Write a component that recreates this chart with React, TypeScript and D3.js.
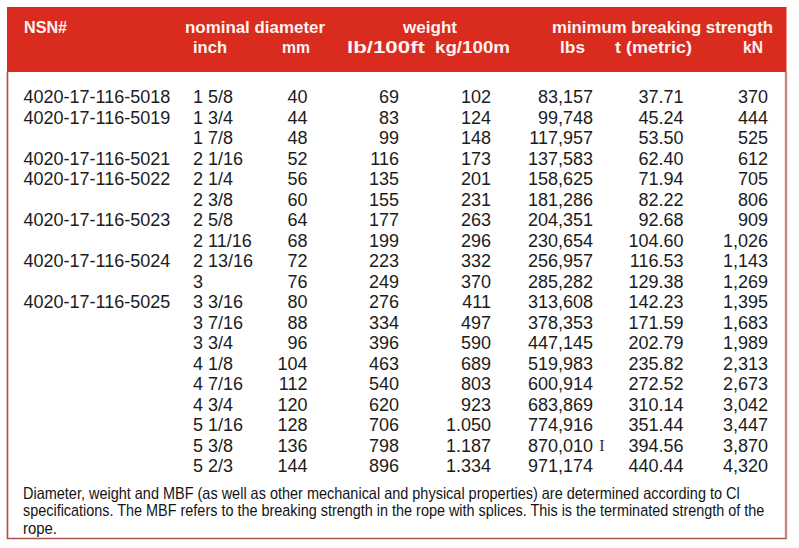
import React, { useLayoutEffect, useRef, useState } from "react";
import * as d3 from "d3";

const nsn = ["4020-17-116-5018", "4020-17-116-5019", "", "4020-17-116-5021", "4020-17-116-5022", "", "4020-17-116-5023", "", "4020-17-116-5024", "", "4020-17-116-5025", "", "", "", "", "", "", "", ""];
const inch = ["1 5/8", "1 3/4", "1 7/8", "2 1/16", "2 1/4", "2 3/8", "2 5/8", "2 11/16", "2 13/16", "3", "3 3/16", "3 7/16", "3 3/4", "4 1/8", "4 7/16", "4 3/4", "5 1/16", "5 3/8", "5 2/3"];
const mm = [40, 44, 48, 52, 56, 60, 64, 68, 72, 76, 80, 88, 96, 104, 112, 120, 128, 136, 144];
const lbPer100ft = [69, 83, 99, 116, 135, 155, 177, 199, 223, 249, 276, 334, 396, 463, 540, 620, 706, 798, 896];
const kgPer100m = [102, 124, 148, 173, 201, 231, 263, 296, 332, 370, 411, 497, 590, 689, 803, 923, 1050, 1187, 1334];
const mbsLbs = [83157, 99748, 117957, 137583, 158625, 181286, 204351, 230654, 256957, 285282, 313608, 378353, 447145, 519983, 600914, 683869, 774916, 870010, 971174];
const mbsTonnes = [37.71, 45.24, 53.5, 62.4, 71.94, 82.22, 92.68, 104.6, 116.53, 129.38, 142.23, 171.59, 202.79, 235.82, 272.52, 310.14, 351.44, 394.56, 440.44];
const mbsKN = [370, 444, 525, 612, 705, 806, 909, 1026, 1143, 1269, 1395, 1683, 1989, 2313, 2673, 3042, 3447, 3870, 4320];

const footnote = [
  "Diameter, weight and MBF (as well as other mechanical and physical properties) are determined according to Cl",
  "specifications. The MBF refers to the breaking strength in the rope with splices. This is the terminated strength of the",
  "rope.",
];
const footnoteWidths = [717, 742, 34];

const W = 799;
const H = 548;

const fmtComma = d3.format(",");
const euro = d3.formatLocale({ decimal: ",", thousands: ".", grouping: [3], currency: ["", ""] });
const fmtKg = euro.format(",");
const fmt2 = d3.format(".2f");

const rowY = d3.scalePoint<number>().domain(d3.range(inch.length)).range([103, 472]);
const footY = d3.scaleLinear().domain([0, 2]).range([499, 533.5]);

const dataFont = "'Liberation Sans', Arial, sans-serif";
const headFont = "'Liberation Sans', Arial, sans-serif";

type Col = { values: string[]; x: number; anchor: "start" | "end" };
const cols: Col[] = [
  { values: nsn, x: 23.5, anchor: "start" },
  { values: inch, x: 193, anchor: "start" },
  { values: mm.map(String), x: 307.5, anchor: "end" },
  { values: lbPer100ft.map(String), x: 399, anchor: "end" },
  { values: kgPer100m.map((v) => fmtKg(v)), x: 491, anchor: "end" },
  { values: mbsLbs.map((v) => fmtComma(v)), x: 593, anchor: "end" },
  { values: mbsTonnes.map((v) => fmt2(v)), x: 683.5, anchor: "end" },
  { values: mbsKN.map((v) => fmtComma(v)), x: 768, anchor: "end" },
];

type Head = { text: string; x: number; y: number; len?: number };
const heads: Head[] = [
  { text: "NSN#", x: 24, y: 32.5, len: 43 },
  { text: "nominal diameter", x: 185, y: 32.5, len: 140 },
  { text: "weight", x: 403, y: 32.5, len: 54 },
  { text: "minimum breaking strength", x: 552, y: 32.5, len: 221 },
  { text: "inch", x: 193, y: 53.3, len: 34 },
  { text: "mm", x: 282, y: 53.3, len: 28 },
  { text: "lb/100ft", x: 347, y: 53.3, len: 78 },
  { text: "kg/100m", x: 435, y: 53.3, len: 75 },
  { text: "lbs", x: 560, y: 53.3, len: 25 },
  { text: "t (metric)", x: 615, y: 53.3, len: 77 },
  { text: "kN", x: 743, y: 53.3, len: 20 },
];

export default function App() {
  const left = 7.5;
  const right = 786;
  const top = 7;
  const headBottom = 72;
  const bottom = 538.5;
  const footRefs = useRef<(SVGTextElement | null)[]>([]);
  const [scales, setScales] = useState<number[]>(footnote.map(() => 1));

  useLayoutEffect(() => {
    const s = footnote.map((_, i) => {
      const el = footRefs.current[i];
      if (!el) return 1;
      const len = el.getComputedTextLength();
      return len > 0 ? footnoteWidths[i] / len : 1;
    });
    setScales(s);
  }, []);

  return (
    <svg width={W} height={H} style={{ position: "absolute", left: 0, top: 0, background: "#fff" }}>
      <rect x={0} y={0} width={W} height={H} fill="#fff" />
      {/* frame */}
      <path
        d={`M${left},${headBottom}V${bottom}H${right}V${headBottom}`}
        fill="none"
        stroke="#f3d2cc"
        strokeWidth={3}
      />
      <path
        d={`M${left},${headBottom}V${bottom}H${right}V${headBottom}`}
        fill="none"
        stroke="#a5564c"
        strokeWidth={1.2}
      />
      {/* header band */}
      <rect x={left - 0.5} y={top} width={right - left + 1} height={headBottom - top} fill="#da2b1f" />
      {heads.map((h, i) => (
        <text
          key={i}
          x={h.x}
          y={h.y}
          fill="#fdf3f1"
          fontFamily={headFont}
          fontWeight="bold"
          fontSize={17}
          textLength={h.len}
          lengthAdjust="spacingAndGlyphs"
        >
          {h.text}
        </text>
      ))}
      {/* body */}
      {cols.map((c, ci) =>
        c.values.map((v, ri) =>
          v ? (
            <text
              key={`${ci}-${ri}`}
              x={c.x}
              y={rowY(ri)}
              textAnchor={c.anchor}
              fill="#1c1c1c"
              fontFamily={dataFont}
              fontSize={18}
            >
              {v}
            </text>
          ) : null
        )
      )}
      {/* text cursor artifact */}
      <text x={602} y={451} fill="#333" fontFamily="'Liberation Serif', serif" fontSize={16} textAnchor="middle">
        I
      </text>
      {/* footnote */}
      {footnote.map((t, i) => (
        <text
          key={i}
          ref={(el) => {
            footRefs.current[i] = el;
          }}
          x={0}
          y={0}
          transform={`translate(23,${footY(i)}) scale(${scales[i]},1)`}
          fill="#141414"
          fontFamily="'Liberation Sans Narrow', 'Liberation Sans', Arial, sans-serif"
          fontSize={16.5}
        >
          {t}
        </text>
      ))}
    </svg>
  );
}
